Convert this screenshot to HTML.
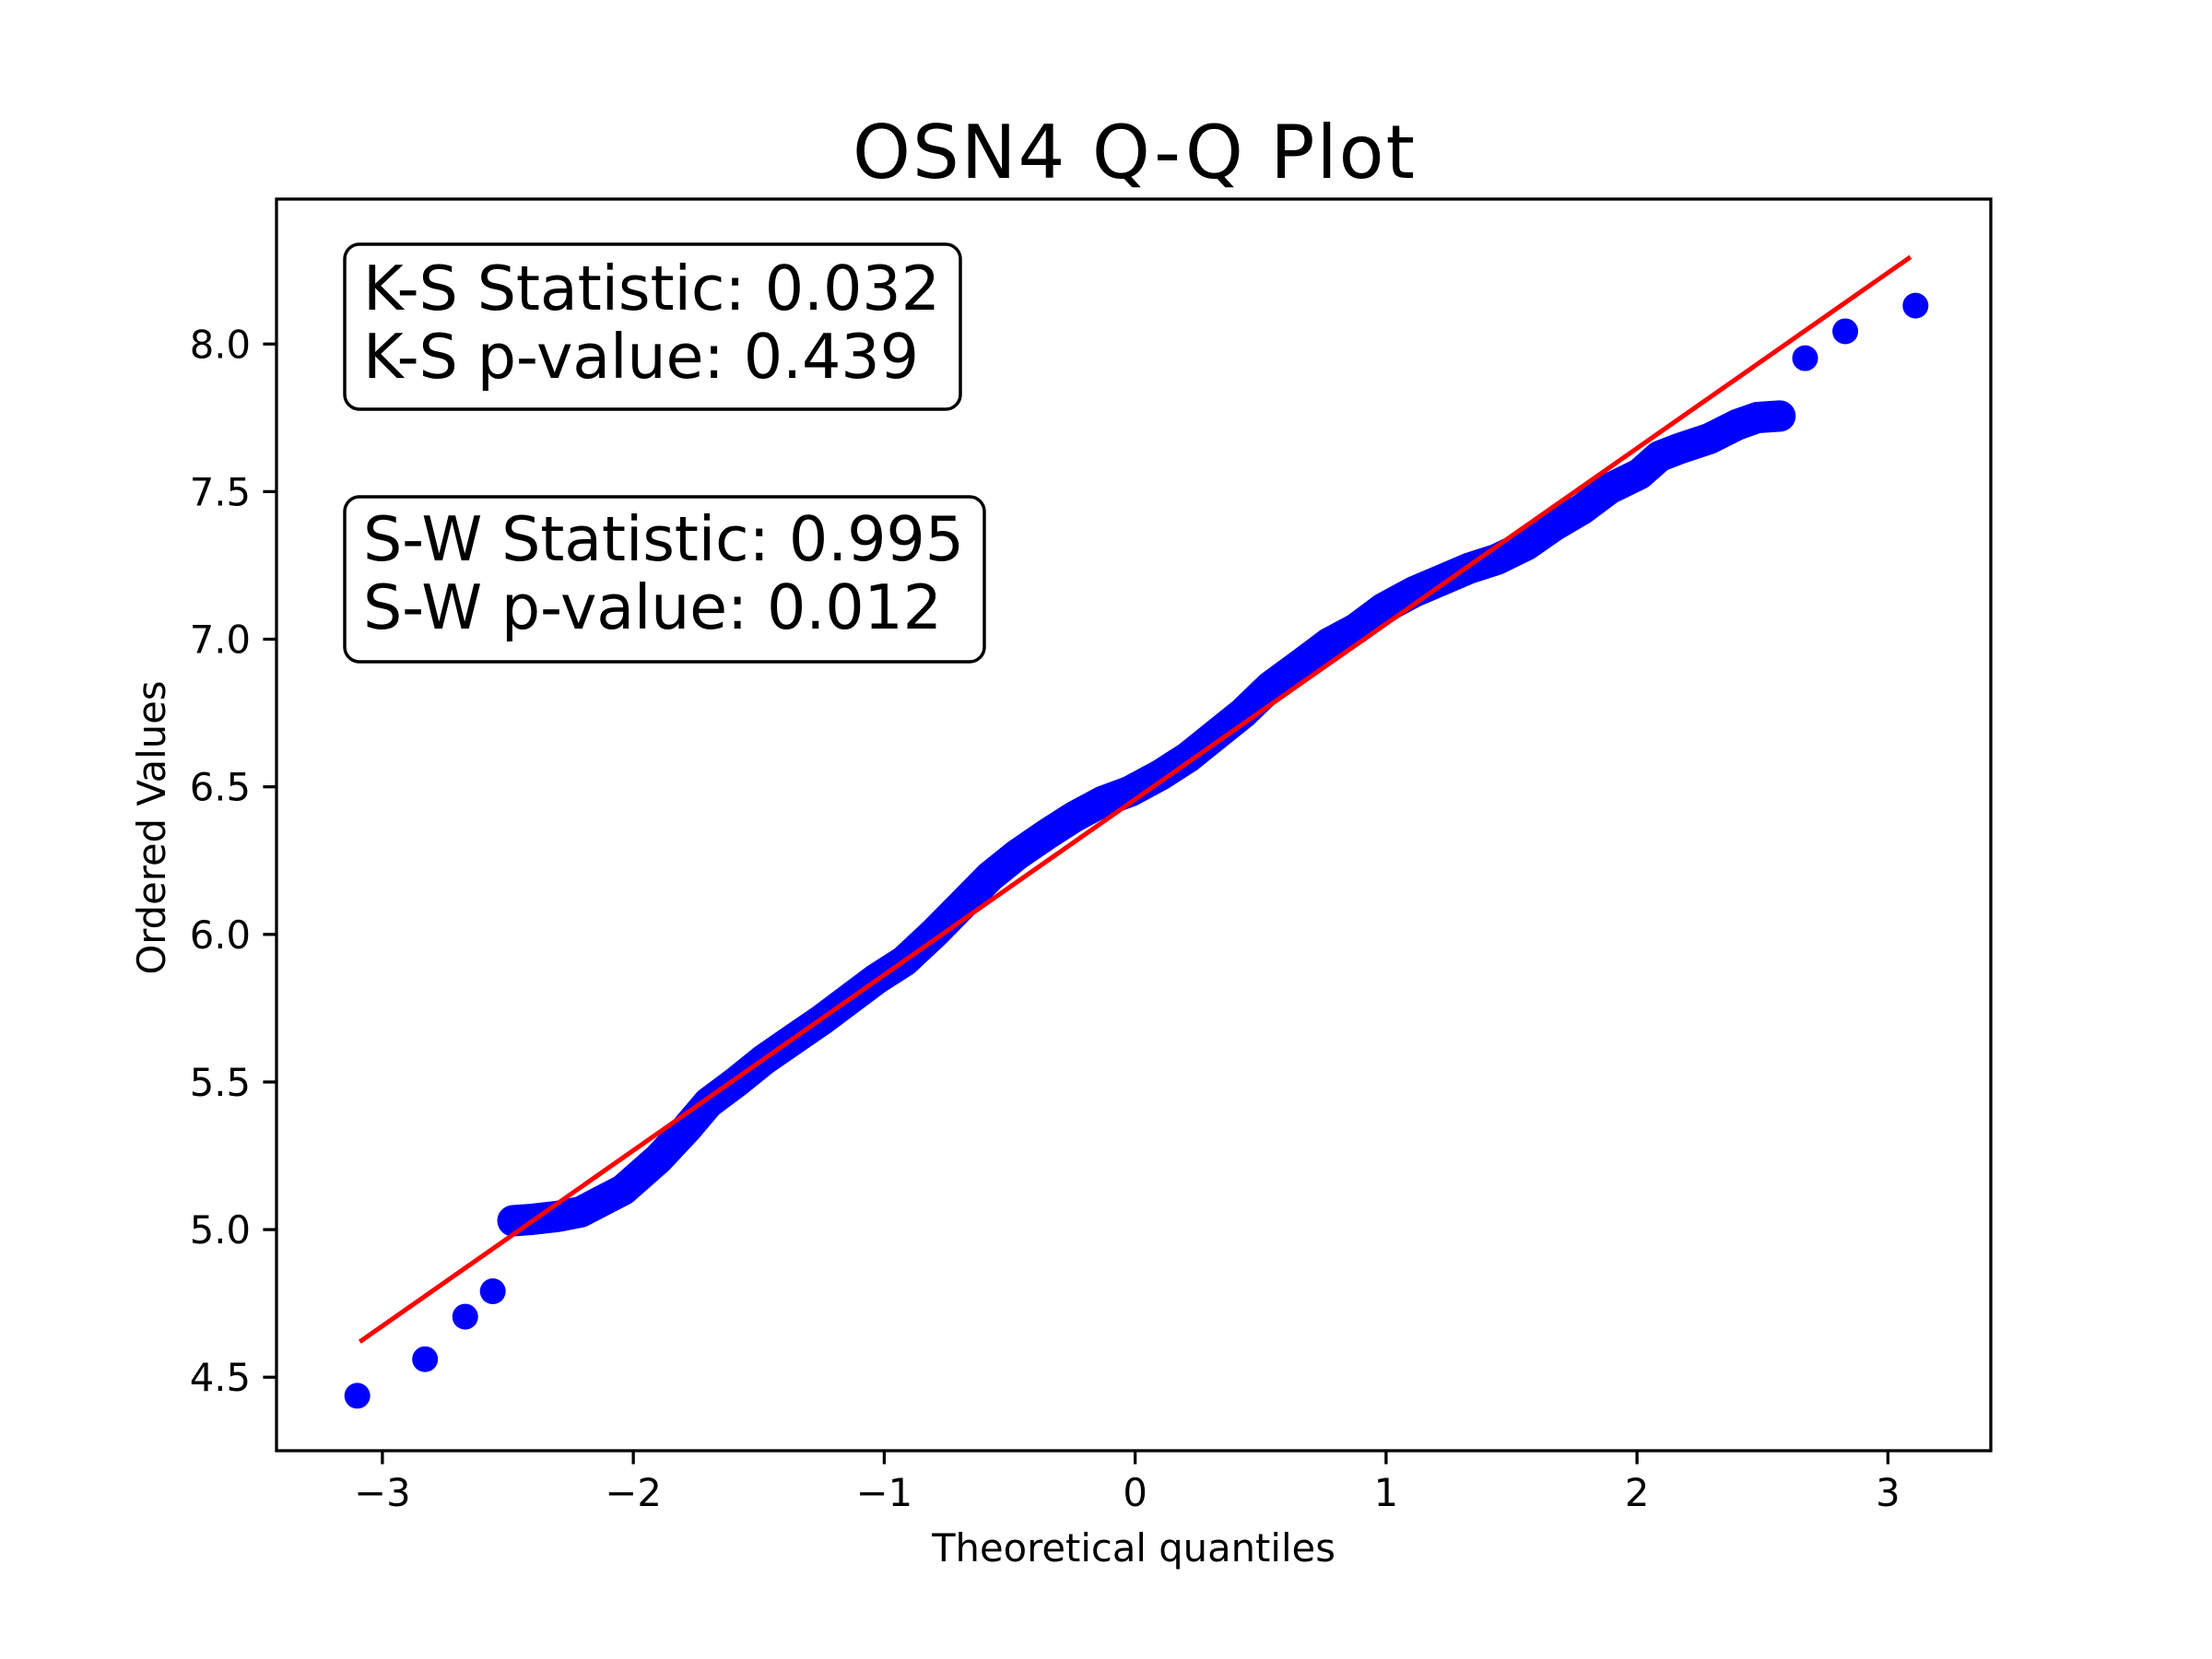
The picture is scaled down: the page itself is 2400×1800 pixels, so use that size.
<!DOCTYPE html>
<html><head><meta charset="utf-8"><title>OSN4 Q-Q Plot</title>
<style>html,body{margin:0;padding:0;background:#fff;}svg{display:block;font-family:"DejaVu Sans","Liberation Sans",sans-serif;}</style>
</head><body>
<svg id="chart" width="2400" height="1800" viewBox="0 0 2400 1800" xmlns="http://www.w3.org/2000/svg">
<rect x="0" y="0" width="2400" height="1800" fill="#fff"/>
<text x="1230" y="193" font-size="80" text-anchor="middle" textLength="610">OSN4 Q-Q Plot</text>
<g id="plot"></g>
<g id="axes"></g>
<text x="1230" y="1694" font-size="41.7" text-anchor="middle">Theoretical quantiles</text>
<text x="0" y="0" font-size="41.7" text-anchor="middle" transform="translate(179,898) rotate(-90)">Ordered Values</text>
<g>
<rect x="374" y="265" width="668" height="179" rx="16" fill="#fff" stroke="#000" stroke-width="3.5"/>
<text x="394" y="336" font-size="66.7" textLength="626">K-S Statistic: 0.032</text>
<text x="394" y="410" font-size="66.7" textLength="603">K-S p-value: 0.439</text>
</g>
<g>
<rect x="374" y="539" width="694" height="179" rx="16" fill="#fff" stroke="#000" stroke-width="3.5"/>
<text x="394" y="608" font-size="66.7" textLength="652">S-W Statistic: 0.995</text>
<text x="394" y="682" font-size="66.7" textLength="628">S-W p-value: 0.012</text>
</g>
</svg>
<script>
const quantiles = [-3.10,-2.83,-2.67,-2.56,-2.48,-2.40,-2.30,-2.21,-2.04,-1.90,-1.79,-1.70,-1.59,-1.48,-1.37,-1.25,-1.14,-1.03,-0.92,-0.80,-0.69,-0.58,-0.47,-0.35,-0.24,-0.13,-0.02,0.10,0.21,0.32,0.43,0.54,0.66,0.77,0.88,0.99,1.11,1.22,1.33,1.44,1.56,1.67,1.78,1.89,2.01,2.09,2.17,2.29,2.40,2.48,2.57,2.67,2.83,3.11];
const orderedValues = [4.437,4.561,4.705,4.791,5.030,5.035,5.045,5.060,5.135,5.240,5.340,5.430,5.500,5.575,5.640,5.710,5.780,5.850,5.910,6.005,6.100,6.195,6.270,6.340,6.400,6.450,6.485,6.540,6.600,6.675,6.750,6.840,6.915,6.985,7.035,7.105,7.160,7.200,7.240,7.270,7.320,7.385,7.440,7.510,7.560,7.620,7.646,7.680,7.727,7.751,7.756,7.952,8.043,8.130];
const fitLineX = [-3.09, 3.09];
const fitLineY = [4.62, 8.295];
const xTicks = [-3,-2,-1,0,1,2,3];
const xTickLabels = ["\u22123","\u22122","\u22121","0","1","2","3"];
const yTicks = [4.5,5.0,5.5,6.0,6.5,7.0,7.5,8.0];
const yTickLabels = ["4.5","5.0","5.5","6.0","6.5","7.0","7.5","8.0"];

const L=300,R=2160,T=216,B=1574;
const xMin=-3.422,xMax=3.41,yMin=4.251,yMax=8.491;
function sx(v){return L+(v-xMin)/(xMax-xMin)*(R-L);}
function sy(v){return B-(v-yMin)/(yMax-yMin)*(B-T);}
const NS="http://www.w3.org/2000/svg";
const plot=document.getElementById('plot');
const axes=document.getElementById('axes');
function mk(tag,attrs,parent){const e=document.createElementNS(NS,tag);for(const k in attrs)e.setAttribute(k,attrs[k]);parent.appendChild(e);return e;}

const denseStart=4, denseEnd=51;
let d='';
for(let i=denseStart;i<denseEnd;i++){d+=(i===denseStart?'M':'L')+sx(quantiles[i]).toFixed(1)+','+sy(orderedValues[i]).toFixed(1);}
const band=mk('path',{d:d,fill:'none',stroke:'#0000ff','stroke-width':34,'stroke-linecap':'round','stroke-linejoin':'round'},plot);


for(let i=0;i<quantiles.length;i++){
  const c=mk('circle',{cx:sx(quantiles[i]),cy:sy(orderedValues[i]),r:14,fill:'#0000ff'},plot);
  
  
}
const ln=mk('line',{x1:sx(fitLineX[0]),y1:sy(fitLineY[0]),x2:sx(fitLineX[1]),y2:sy(fitLineY[1]),stroke:'#ff0000','stroke-width':5},plot);



const frame=mk('rect',{x:L,y:T,width:R-L,height:B-T,fill:'none',stroke:'#000','stroke-width':3.3},axes);


xTicks.forEach((v,i)=>{
  const x=sx(v);
  const t=mk('line',{x1:x,y1:B,x2:x,y2:B+14.6,stroke:'#000','stroke-width':3.3},axes);
  
  
  const lb=mk('text',{x:x,y:1634,'font-size':41.7,'text-anchor':'middle'},axes);
  lb.textContent=xTickLabels[i];
  
  
});
yTicks.forEach((v,i)=>{
  const y=sy(v);
  const t=mk('line',{x1:L-14.6,y1:y,x2:L,y2:y,stroke:'#000','stroke-width':3.3},axes);
  
  
  const lb=mk('text',{x:272,y:y+15,'font-size':41.7,'text-anchor':'end'},axes);
  lb.textContent=yTickLabels[i];
  
  
});
</script>
</body></html>
